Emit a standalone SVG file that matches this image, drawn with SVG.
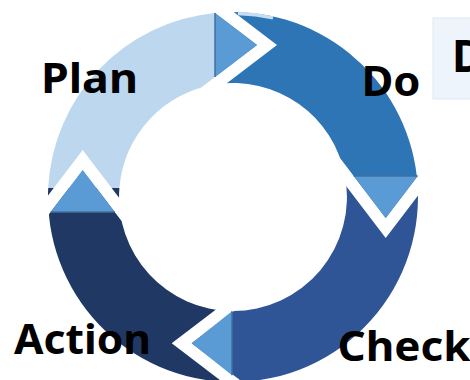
<svg xmlns="http://www.w3.org/2000/svg" width="470" height="380" viewBox="0 0 470 380">
  <style>
    .lbl { font-family: "Noto Sans", "Liberation Sans", sans-serif; font-weight: 700; font-size: 41px; fill: #000; }
    .band { fill: #ffffff; }
    .head { fill: #5B9BD5; }
    .base { stroke: #41719C; stroke-width: 1.5; fill: none; }
  </style>
  <rect width="470" height="380" fill="#ffffff"/>
  <g id="legend-box">
    <rect x="433" y="18" width="40" height="81" fill="#EDF4FB" stroke="#DFEAF6" stroke-width="1"/>
    <text class="lbl" x="452" y="72" font-size="44" style="font-size:44px">D</text>
  </g>
  <g id="node-plan">
    <path d="M48.2,188 A185,185 0 0 1 215,12.9 L215,84.4 A114,114 0 0 0 119.4,188 Z" fill="#BDD7EE"/>
    <text class="lbl" x="41" y="93" textLength="97" lengthAdjust="spacingAndGlyphs">Plan</text>
  </g>
  <g id="node-do">
    <path d="M215,12.9 A185,185 0 0 1 416.8,176 L345,176 A114,114 0 0 0 215,84.4 Z" fill="#2E75B6"/>
    <path d="M238,13.6 A183.5,183.5 0 0 1 273,17.9" stroke="#C6DCF0" stroke-width="3.5" fill="none"/>
    <text class="lbl" x="361.5" y="96" textLength="59" lengthAdjust="spacingAndGlyphs">Do</text>
  </g>
  <g id="node-check">
    <path d="M416.8,176 A185,185 0 0 1 232,382 L232,311 A114,114 0 0 0 345,176 Z" fill="#2F5597"/>
    <text class="lbl" x="337.5" y="361" textLength="133" lengthAdjust="spacingAndGlyphs">Check</text>
  </g>
  <g id="node-action">
    <path d="M232,382 A185,185 0 0 1 48.2,188 L119.4,188 A114,114 0 0 0 232,311 Z" fill="#203864"/>
    <text class="lbl" x="14" y="353.5" textLength="137" lengthAdjust="spacingAndGlyphs">Action</text>
  </g>
  <g id="connectors">
    <!-- Plan -> Do -->
    <polygon class="band" points="257,45 194,-3 214,-3 277,45 214,93 194,93"/>
    <polygon class="head" points="215,13 257,45 215,77"/>
    <line class="base" x1="215" y1="13" x2="215" y2="77"/>
    <!-- Do -> Check -->
    <polygon class="band" points="385.7,218 433.7,155 433.7,175 385.7,238 337.7,175 337.7,155"/>
    <polygon class="head" points="353.7,176 385.7,218 417.7,176"/>
    <line class="base" x1="353.7" y1="176" x2="417.7" y2="176"/>
    <!-- Check -> Action -->
    <polygon class="band" points="191.7,343.3 254.7,391.3 234.7,391.3 171.7,343.3 234.7,295.3 254.7,295.3"/>
    <polygon class="head" points="232,311.3 191.7,343.3 232,375.3"/>
    <line class="base" x1="232" y1="311.3" x2="232" y2="375.3"/>
    <!-- Action -> Plan -->
    <polygon class="band" points="82.7,170 34.7,233 34.7,213 82.7,150 130.7,213 130.7,233"/>
    <polygon class="head" points="50.7,212 82.7,170 114.7,212"/>
    <line class="base" x1="50.7" y1="212" x2="114.7" y2="212"/>
  </g>
</svg>
